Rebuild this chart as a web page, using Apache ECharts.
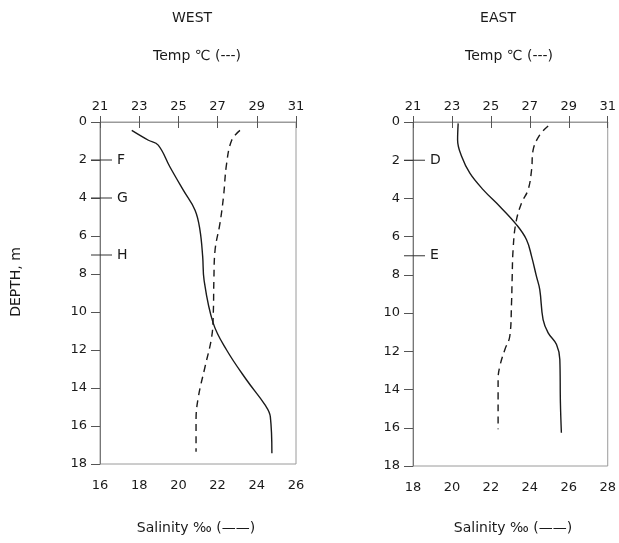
<!DOCTYPE html>
<html>
<head>
<meta charset="utf-8">
<script src="https://cdn.jsdelivr.net/npm/echarts@6/dist/echarts.min.js"></script>
<style>
  html, body { margin: 0; padding: 0; background: #fff; }
  #chart { width: 619px; height: 543px; }
</style>
</head>
<body>
<div id="chart"></div>
<script>
// Depth profiles (m) of salinity (‰) and temperature (°C) at the two stations
const westSalDepth = [0.44, 0.96, 1.22, 2.37, 3.59, 4.64, 5.69, 7.1, 8.32, 10.6, 12.0, 13.58, 14.89, 15.51, 17.43];
const westSal      = [17.62, 18.47, 18.97, 19.57, 20.25, 20.85, 21.10, 21.24, 21.31, 21.78, 22.46, 23.48, 24.42, 24.69, 24.77];
const westTempDepth = [0.44, 0.96, 2.19, 3.94, 5.34, 6.75, 8.32, 10.07, 11.3, 12.88, 14.46, 15.68, 17.35];
const westTemp      = [28.14, 27.72, 27.46, 27.30, 27.12, 26.87, 26.81, 26.78, 26.70, 26.36, 26.02, 25.90, 25.90];

const eastSalDepth = [0.07, 0.94, 1.81, 2.68, 3.55, 4.42, 5.38, 6.16, 7.03, 8.08, 8.77, 10.34, 11.03, 11.64, 12.43, 14.69, 16.26];
const eastSal      = [20.32, 20.29, 20.50, 20.92, 21.61, 22.46, 23.32, 23.83, 24.09, 24.34, 24.51, 24.68, 24.94, 25.37, 25.54, 25.57, 25.62];
const eastTempDepth = [0.21, 0.68, 1.46, 2.5, 3.55, 4.25, 5.29, 6.68, 8.25, 9.47, 11.21, 11.9, 12.78, 13.47, 16.08];
const eastTemp      = [27.94, 27.51, 27.17, 27.09, 26.91, 26.57, 26.28, 26.14, 26.09, 26.06, 25.97, 25.72, 25.46, 25.37, 25.37];

// Sampling stations marked on the depth axis
const westStations = ['F', 'G', 'H'];
const westStationDepth = [2, 4, 7];
const eastStations = ['D', 'E'];
const eastStationDepth = [2, 7];

// Axis ranges and tick labels
const tempTicks = [21, 23, 25, 27, 29, 31];
const westSalRange = [16, 26];
const eastSalRange = [18, 28];
const depthRange = [0, 18];

const FONT = '"DejaVu Sans", "Liberation Sans", sans-serif';
const INK = '#1a1a1a';
const AXIS = '#9a9a9a';

const pairs = (xs, ys) => xs.map((x, i) => [x, ys[i]]);

function salAxis(grid, range) {
  return {
    type: 'value', gridIndex: grid, position: 'bottom',
    min: range[0], max: range[1], interval: 2,
    axisLine: { show: true, lineStyle: { color: AXIS, width: 1 } },
    axisTick: { show: true, length: 6, lineStyle: { color: '#555' } },
    axisLabel: { color: INK, fontFamily: FONT, fontSize: 13, margin: 15 },
    splitLine: { show: false }
  };
}
function tempAxis(grid) {
  return {
    type: 'value', gridIndex: grid, position: 'top',
    min: tempTicks[0], max: tempTicks[tempTicks.length - 1],
    axisLine: { show: true, lineStyle: { color: AXIS, width: 1 } },
    axisTick: { show: true, length: 6, customValues: tempTicks, lineStyle: { color: '#555' } },
    axisLabel: { color: INK, fontFamily: FONT, fontSize: 13, margin: 9, customValues: tempTicks },
    splitLine: { show: false }
  };
}
function depthAxis(grid) {
  return {
    type: 'value', gridIndex: grid, inverse: true,
    min: depthRange[0], max: depthRange[1], interval: 2,
    axisLine: { show: true, onZero: false, lineStyle: { color: '#777', width: 1 } },
    axisTick: { show: true, length: 9, lineStyle: { color: '#555' } },
    axisLabel: { color: INK, fontFamily: FONT, fontSize: 13, margin: 13 },
    splitLine: { show: false }
  };
}

function profile(xAxisIndex, yAxisIndex, data, dashed) {
  return {
    type: 'line', xAxisIndex, yAxisIndex, data,
    showSymbol: false, smooth: 0.4, silent: true,
    lineStyle: { color: INK, width: 1.4, type: dashed ? [7, 5] : 'solid' }
  };
}

function stations(xAxisIndex, yAxisIndex, axisMin, names, depths) {
  return {
    type: 'custom', xAxisIndex, yAxisIndex, silent: true,
    data: names.map((n, i) => [axisMin, depths[i], n]),
    renderItem(params, api) {
      const p = api.coord([api.value(0), api.value(1)]);
      return {
        type: 'group',
        children: [
          { type: 'line', shape: { x1: p[0] - 9, y1: p[1], x2: p[0] + 12, y2: p[1] },
            style: { stroke: '#333', lineWidth: 1 } },
          { type: 'text', style: { text: api.value(2), x: p[0] + 17, y: p[1],
              verticalAlign: 'middle', fill: INK, font: '14px ' + FONT } }
        ]
      };
    }
  };
}

const chart = echarts.init(document.getElementById('chart'), null, { renderer: 'canvas' });

const txt = (text, x, y, extra) => Object.assign({
  type: 'text', x, y,
  style: { text, fill: INK, font: '14px ' + FONT, align: 'center', verticalAlign: 'middle' }
}, extra || {});

chart.setOption({
  animation: false,
  backgroundColor: '#fff',
  grid: [
    { left: 100, top: 122, width: 196, height: 342, show: true, borderColor: AXIS, borderWidth: 1, backgroundColor: 'transparent' },
    { left: 413, top: 122, width: 195, height: 344, show: true, borderColor: AXIS, borderWidth: 1, backgroundColor: 'transparent' }
  ],
  xAxis: [salAxis(0, westSalRange), tempAxis(0), salAxis(1, eastSalRange), tempAxis(1)],
  yAxis: [depthAxis(0), depthAxis(1)],
  series: [
    profile(0, 0, pairs(westSal, westSalDepth), false),
    profile(1, 0, pairs(westTemp, westTempDepth), true),
    profile(2, 1, pairs(eastSal, eastSalDepth), false),
    profile(3, 1, pairs(eastTemp, eastTempDepth), true),
    stations(0, 0, westSalRange[0], westStations, westStationDepth),
    stations(2, 1, eastSalRange[0], eastStations, eastStationDepth)
  ],
  graphic: [
    txt('WEST', 192, 18),
    txt('EAST', 498, 18),
    txt('Temp ℃ (---)', 197, 56),
    txt('Temp ℃ (---)', 509, 56),
    txt('Salinity ‰ (——)', 196, 528),
    txt('Salinity ‰ (——)', 513, 528),
    txt('DEPTH, m', 16, 282, { rotation: Math.PI / 2 })
  ]
});
</script>
</body>
</html>
